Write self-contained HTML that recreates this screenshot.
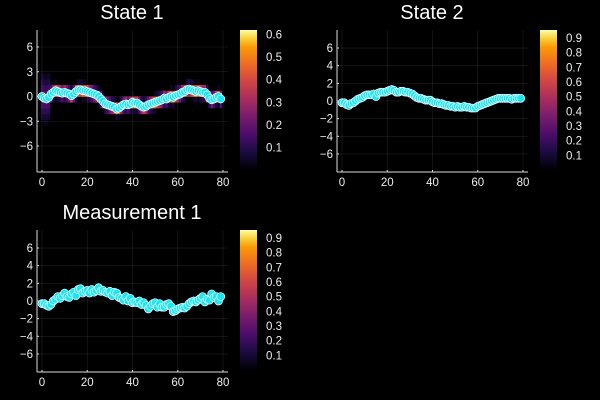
<!DOCTYPE html>
<html><head><meta charset="utf-8">
<style>
html,body{margin:0;padding:0;background:#000;}
svg{display:block;font-family:"Liberation Sans","DejaVu Sans",sans-serif;}
</style></head>
<body>
<svg id="chart" width="600" height="400" viewBox="0 0 600 400">
<defs>
<linearGradient id="inferno" x1="0" y1="1" x2="0" y2="0">
<stop offset="0" stop-color="#000004"/><stop offset="0.13" stop-color="#1b0c41"/>
<stop offset="0.25" stop-color="#4a0c6b"/><stop offset="0.38" stop-color="#781c6d"/>
<stop offset="0.5" stop-color="#a52c60"/><stop offset="0.63" stop-color="#cf4446"/>
<stop offset="0.75" stop-color="#ed6925"/><stop offset="0.88" stop-color="#fb9b06"/>
<stop offset="0.94" stop-color="#f7d13d"/><stop offset="1" stop-color="#fcffa4"/>
</linearGradient>
</defs>
</svg>
<script>
const state1=[0,-0.2,-0.3,-0.1,0.3,0.5,0.7,0.6,0.5,0.4,0.5,0.4,0.3,0.1,0.3,0.6,0.8,0.8,0.7,0.7,0.6,0.5,0.4,0.3,0.2,0,-0.3,-0.6,-0.9,-1.0,-1.1,-1.2,-1.3,-1.5,-1.4,-1.2,-1.0,-0.9,-1.0,-0.9,-0.7,-0.8,-0.8,-1.0,-1.2,-1.3,-1.2,-1.0,-0.9,-0.8,-0.7,-0.6,-0.5,-0.4,-0.2,-0.3,-0.1,0,-0.1,0.1,0.2,0.3,0.5,0.6,0.8,0.9,0.8,0.7,0.6,0.7,0.6,0.5,0.5,0.2,-0.2,-0.4,-0.3,-0.1,0,-0.3];
const state2=[-0.2,-0.2,-0.4,-0.5,-0.3,-0.2,0,0.2,0.3,0.4,0.6,0.7,0.7,0.7,0.8,0.5,0.9,1.0,1.0,1.0,1.1,1.2,1.3,1.2,1.0,1.0,1.1,1.1,1.0,1.0,0.9,0.8,0.6,0.4,0.3,0.3,0.2,0.1,0.1,0.1,-0.1,-0.2,-0.2,-0.3,-0.3,-0.4,-0.5,-0.5,-0.6,-0.6,-0.7,-0.6,-0.7,-0.7,-0.6,-0.7,-0.7,-0.8,-0.8,-0.8,-0.6,-0.5,-0.4,-0.3,-0.2,-0.1,0,0.1,0.2,0.3,0.3,0.3,0.3,0.3,0.3,0.2,0.3,0.3,0.3,0.3];
const meas1=[-0.3,-0.3,-0.5,-0.6,-0.4,0,0.2,0.5,0.3,0.6,0.9,0.5,0.4,0.8,1.0,0.6,1.3,1.4,0.9,1.1,1.2,0.9,1.3,1.0,1.2,1.5,1.1,1.2,1.0,0.9,1.1,0.6,1.0,0.9,0.4,0.3,0.1,0.5,0,0.3,-0.2,-0.1,-0.2,0,-0.4,-0.2,-0.5,-0.9,-0.6,-0.3,-0.2,-0.7,-0.3,-0.7,-0.7,-0.4,-0.3,-0.6,-1.2,-1.1,-0.9,-0.8,-0.7,-0.8,-0.6,-0.3,-0.1,0,-0.1,0.1,0.3,0.5,-0.1,0.2,0.1,0.8,0.4,0.5,0,0.5];
const xTicks=[0,20,40,60,80];
const yTicks1=[-6,-3,0,3,6];
const yTicks2=[-6,-4,-2,0,2,4,6];
const cbTicks1=[0.1,0.2,0.3,0.4,0.5,0.6];
const cbTicks2=[0.1,0.2,0.3,0.4,0.5,0.6,0.7,0.8,0.9];

const NS="http://www.w3.org/2000/svg";
const svg=document.getElementById('chart');
function mk(tag,attrs,parent){const e=document.createElementNS(NS,tag);for(const k in attrs)e.setAttribute(k,attrs[k]);(parent||svg).appendChild(e);return e;}
const stops=[[0,[0,0,4]],[0.13,[27,12,65]],[0.25,[74,12,107]],[0.38,[120,28,109]],[0.5,[165,44,96]],[0.63,[207,68,70]],[0.75,[237,105,37]],[0.88,[251,155,6]],[0.94,[247,209,61]],[1,[252,255,164]]];
function inferno(t){t=Math.max(0,Math.min(1,t));for(let i=1;i<stops.length;i++){if(t<=stops[i][0]){const a=stops[i-1],b=stops[i];const f=(t-a[0])/(b[0]-a[0]);const c=a[1].map((v,j)=>Math.round(v+(b[1][j]-v)*f));return `rgb(${c})`;}}return 'rgb(252,255,164)';}

function panel(o){
  const g=mk('g',{});
  
  
  const L=o.ox+37,R=o.ox+228,T=o.oy+30,B=o.oy+172;
  const xs=v=>o.ox+42+(v/80)*181;
  const ys=v=>T+(o.ymax-v)/(o.ymax-o.ymin)*(B-T);
  const hm=mk('g',{},g);
  
  
  const bin=o.bin;
  o.data.forEach((m,i)=>{
    const s=o.sig(i);
    for(let y=Math.floor((m-4*s)/bin)*bin;y<m+4*s;y+=bin){
      const c=y+bin/2;
      const p=bin/(s*Math.sqrt(2*Math.PI))*Math.exp(-0.5*((c-m)/s)**2);
      if(p<0.03)continue;
      const r=mk('rect',{x:xs(i-0.5),y:ys(y+bin),width:xs(1)-xs(0)+0.3,height:ys(y)-ys(y+bin)+0.3,fill:inferno(p/o.cmax)},hm);
      
      
    }
  });
  xTicks.forEach(t=>mk('line',{x1:xs(t),x2:xs(t),y1:T,y2:B,stroke:'#fff','stroke-opacity':0.12,'stroke-width':0.6},g));
  o.yt.forEach(t=>mk('line',{x1:L,x2:R,y1:ys(t),y2:ys(t),stroke:'#fff','stroke-opacity':0.12,'stroke-width':0.6},g));
  const ax=mk('line',{x1:L,x2:R,y1:B,y2:B,stroke:'#ddd','stroke-width':1},g);
  
  const ay=mk('line',{x1:L,x2:L,y1:T,y2:B,stroke:'#ddd','stroke-width':1},g);
  
  xTicks.forEach(t=>{
    mk('line',{x1:xs(t),x2:xs(t),y1:B,y2:B-2,stroke:'#ddd'},g);
    const tx=mk('text',{x:xs(t),y:B+14,fill:'#eee','font-size':11.5,'text-anchor':'middle'},g);
    tx.textContent=t;
    
  });
  o.yt.forEach(t=>{
    mk('line',{x1:L,x2:L+2,y1:ys(t),y2:ys(t),stroke:'#ddd'},g);
    const tx=mk('text',{x:L-4,y:ys(t)+4,fill:'#eee','font-size':11.5,'text-anchor':'end'},g);
    tx.textContent=t<0?'\u2212'+(-t):t;
    
  });
  const pts=mk('g',{},g);
  
  
  o.data.forEach((v,i)=>{
    const c=mk('circle',{cx:xs(i),cy:ys(v),r:4,fill:'#1ee6f0',stroke:'#e8ffff','stroke-width':0.7},pts);
    
    
  });
  const ti=mk('text',{x:o.ox+132,y:o.oy+19,fill:'#fff','font-size':20,'text-anchor':'middle'},g);
  ti.textContent=o.title;
  
  const cb=mk('rect',{x:o.ox+240,y:T,width:17,height:140,fill:'url(#inferno)'},g);
  
  const cy=v=>T+140-(v/o.cmax)*140;
  o.cbt.forEach(t=>{
    const tx=mk('text',{x:o.ox+266,y:cy(t)+4,fill:'#eee','font-size':11.5},g);
    tx.textContent=t.toFixed(1);
    
  });
}
panel({name:'state-1-panel',title:'State 1',ox:0,oy:0,ymin:-9.15,ymax:8.06,yt:yTicks1,data:state1,bin:0.7,sig:i=>i<4?1.6:0.45,cmax:0.62,cbt:cbTicks1});
panel({name:'state-2-panel',title:'State 2',ox:300,oy:0,ymin:-8.04,ymax:8.04,yt:yTicks2,data:state2,bin:0.3,sig:i=>0.2,cmax:0.954,cbt:cbTicks2});
panel({name:'measurement-1-panel',title:'Measurement 1',ox:0,oy:200,ymin:-8.04,ymax:8.04,yt:yTicks2,data:meas1,bin:0.3,sig:i=>0.2,cmax:0.954,cbt:cbTicks2});
</script>
</body></html>
